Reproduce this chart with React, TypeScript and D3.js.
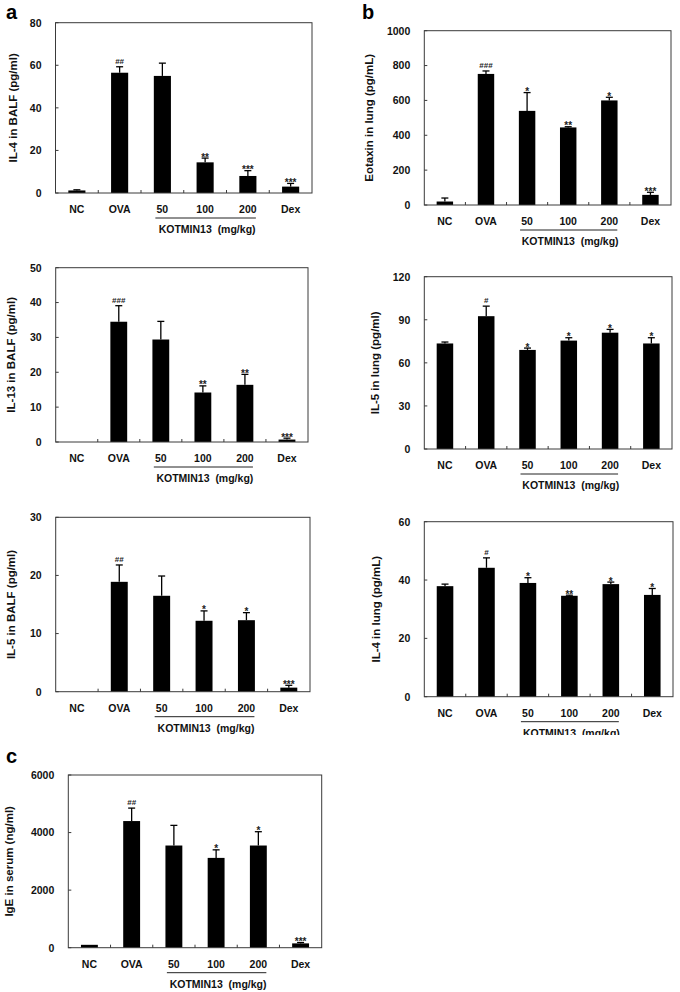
import React from "react";
import * as d3 from "d3";

const categories = ["NC", "OVA", "50", "100", "200", "Dex"];

const il4BalfMean = [1.2, 56.5, 55, 14.4, 8, 3];
const il4BalfErr = [0.3, 2.8, 6, 2, 2.5, 1.5];
const il4BalfSig = ["", "##", "", "**", "***", "***"];
const il4BalfTicks = [0, 20, 40, 60, 80];

const eotaxinMean = [20, 752, 540, 445, 600, 58];
const eotaxinErr = [20, 17, 105, 4, 18, 15];
const eotaxinSig = ["", "###", "*", "**", "*", "***"];
const eotaxinTicks = [0, 200, 400, 600, 800, 1000];

const il13BalfMean = [0, 34.5, 29.4, 14.2, 16.4, 0.7];
const il13BalfErr = [0, 4.6, 5.2, 1.9, 3, 0.4];
const il13BalfSig = ["", "###", "", "**", "**", "***"];
const il13BalfTicks = [0, 10, 20, 30, 40, 50];

const il5LungMean = [73.5, 92.5, 69, 75.5, 81, 73.5];
const il5LungErr = [1, 7, 1.3, 2, 2.3, 4];
const il5LungSig = ["", "#", "*", "*", "*", "*"];
const il5LungTicks = [0, 30, 60, 90, 120];

const il5BalfMean = [0, 18.9, 16.5, 12.2, 12.3, 0.7];
const il5BalfErr = [0, 2.9, 3.4, 1.7, 1.3, 0.4];
const il5BalfSig = ["", "##", "", "*", "*", "***"];
const il5BalfTicks = [0, 10, 20, 30];

const il4LungMean = [37.9, 44.2, 39, 34.6, 38.6, 34.9];
const il4LungErr = [0.7, 3.4, 1.8, 0.2, 0.7, 2.2];
const il4LungSig = ["", "#", "*", "**", "*", "*"];
const il4LungTicks = [0, 20, 40, 60];

const igeMean = [100, 4400, 3550, 3120, 3550, 150];
const igeErr = [0, 450, 700, 280, 480, 30];
const igeSig = ["", "##", "", "*", "*", "***"];
const igeTicks = [0, 2000, 4000, 6000];

const groupLabel = "KOTMIN13  (mg/kg)";

const FONT = "'Liberation Sans', Arial, Helvetica, sans-serif";

type Panel = {
  letter?: string;
  letterX?: number;
  letterY?: number;
  title: string;
  titleX: number;
  L: number; R: number; T: number; B: number;
  mean: number[]; err: number[]; sig: string[]; ticks: number[];
};

const panels: Panel[] = [
  { letter: "a", letterX: 6, letterY: 19, title: "IL-4 in BALF (pg/ml)", titleX: 13, L: 55.5, R: 312, T: 22.7, B: 193, mean: il4BalfMean, err: il4BalfErr, sig: il4BalfSig, ticks: il4BalfTicks },
  { letter: "b", letterX: 362, letterY: 19, title: "Eotaxin in lung (pg/mL)", titleX: 369, L: 424.3, R: 671, T: 30.7, B: 205, mean: eotaxinMean, err: eotaxinErr, sig: eotaxinSig, ticks: eotaxinTicks },
  { title: "IL-13 in BALF (pg/ml)", titleX: 11, L: 55.7, R: 308, T: 267.7, B: 442, mean: il13BalfMean, err: il13BalfErr, sig: il13BalfSig, ticks: il13BalfTicks },
  { title: "IL-5 in lung (pg/ml)", titleX: 375, L: 424.3, R: 672, T: 276.7, B: 449, mean: il5LungMean, err: il5LungErr, sig: il5LungSig, ticks: il5LungTicks },
  { title: "IL-5 in BALF (pg/ml)", titleX: 11, L: 55.7, R: 310, T: 517.3, B: 691.7, mean: il5BalfMean, err: il5BalfErr, sig: il5BalfSig, ticks: il5BalfTicks },
  { title: "IL-4 in lung (pg/mL)", titleX: 376, L: 424.3, R: 673, T: 521.7, B: 696.7, mean: il4LungMean, err: il4LungErr, sig: il4LungSig, ticks: il4LungTicks },
  { letter: "c", letterX: 6, letterY: 763, title: "IgE in serum (ng/ml)", titleX: 9, L: 68.3, R: 321.7, T: 775, B: 947.7, mean: igeMean, err: igeErr, sig: igeSig, ticks: igeTicks },
];

function BarPanel({ p }: { p: Panel }) {
  const x = d3.scaleBand<string>().domain(categories).range([p.L, p.R]).paddingInner(0).paddingOuter(0);
  const y = d3.scaleLinear().domain([0, p.ticks[p.ticks.length - 1]]).range([p.B, p.T]);
  const bw = x.bandwidth() * 0.4;
  const cx = (c: string) => (x(c) as number) + x.bandwidth() / 2;
  const axisColor = "#3a3a3a";
  return (
    <g fontFamily={FONT} fontWeight="bold">
      {p.letter && (
        <text x={p.letterX} y={p.letterY} fontSize={20} fill="#000">{p.letter}</text>
      )}
      {categories.map((c, i) => {
        const v = p.mean[i];
        if (v <= 0) return null;
        const top = y(v);
        const et = y(v + p.err[i]);
        return (
          <g key={c}>
            <rect x={cx(c) - bw / 2} y={top} width={bw} height={p.B - top} fill="#000" />
            {p.err[i] > 0 && (
              <>
                <line x1={cx(c)} x2={cx(c)} y1={top} y2={et} stroke="#000" strokeWidth={1.3} />
                <line x1={cx(c) - 3.5} x2={cx(c) + 3.5} y1={et} y2={et} stroke="#000" strokeWidth={1.3} />
              </>
            )}
            {p.sig[i] && (
              <text
                x={cx(c)}
                y={p.sig[i].startsWith("#") ? et - 3 : et + 2.5}
                textAnchor="middle"
                fontSize={p.sig[i].startsWith("#") ? 8 : 10}
                fill="#222"
              >
                {p.sig[i]}
              </text>
            )}
          </g>
        );
      })}
      <rect x={p.L} y={p.T} width={p.R - p.L} height={p.B - p.T} fill="none" stroke={axisColor} strokeWidth={1} />
      {p.ticks.map((t) => (
        <g key={t}>
          <line x1={p.L} x2={p.L + 3} y1={y(t)} y2={y(t)} stroke={axisColor} />
          <text x={p.L - 14} y={y(t) + 3.8} textAnchor="end" fontSize={10.5} fill="#111">{t}</text>
        </g>
      ))}
      {categories.slice(1).map((c) => (
        <line key={c} x1={x(c) as number} x2={x(c) as number} y1={p.B} y2={p.B - 3} stroke={axisColor} />
      ))}
      {categories.map((c) => (
        <text key={c} x={cx(c)} y={p.B + 20} textAnchor="middle" fontSize={10.5} fill="#111">{c}</text>
      ))}
      <line x1={cx("50") - 7} x2={cx("200") + 8} y1={p.B + 25} y2={p.B + 25} stroke="#222" strokeWidth={1} />
      <text x={cx("100") + 2} y={p.B + 40} textAnchor="middle" fontSize={10.5} fill="#111" style={{ whiteSpace: "pre" }}>{groupLabel}</text>
      <text
        transform={`translate(${p.titleX + 4},${(p.T + p.B) / 2}) rotate(-90)`}
        textAnchor="middle"
        fontSize={11.5}
        fill="#111"
      >
        {p.title}
      </text>
    </g>
  );
}

export default function App() {
  return (
    <svg
      width={680}
      height={992}
      style={{ position: "absolute", left: 0, top: 0, background: "#fff" }}
    >
      <rect x={0} y={0} width={680} height={992} fill="#fff" />
      {panels.map((p, i) => (
        <BarPanel key={i} p={p} />
      ))}
      <rect x={340} y={735} width={340} height={20} fill="#fff" />
    </svg>
  );
}
